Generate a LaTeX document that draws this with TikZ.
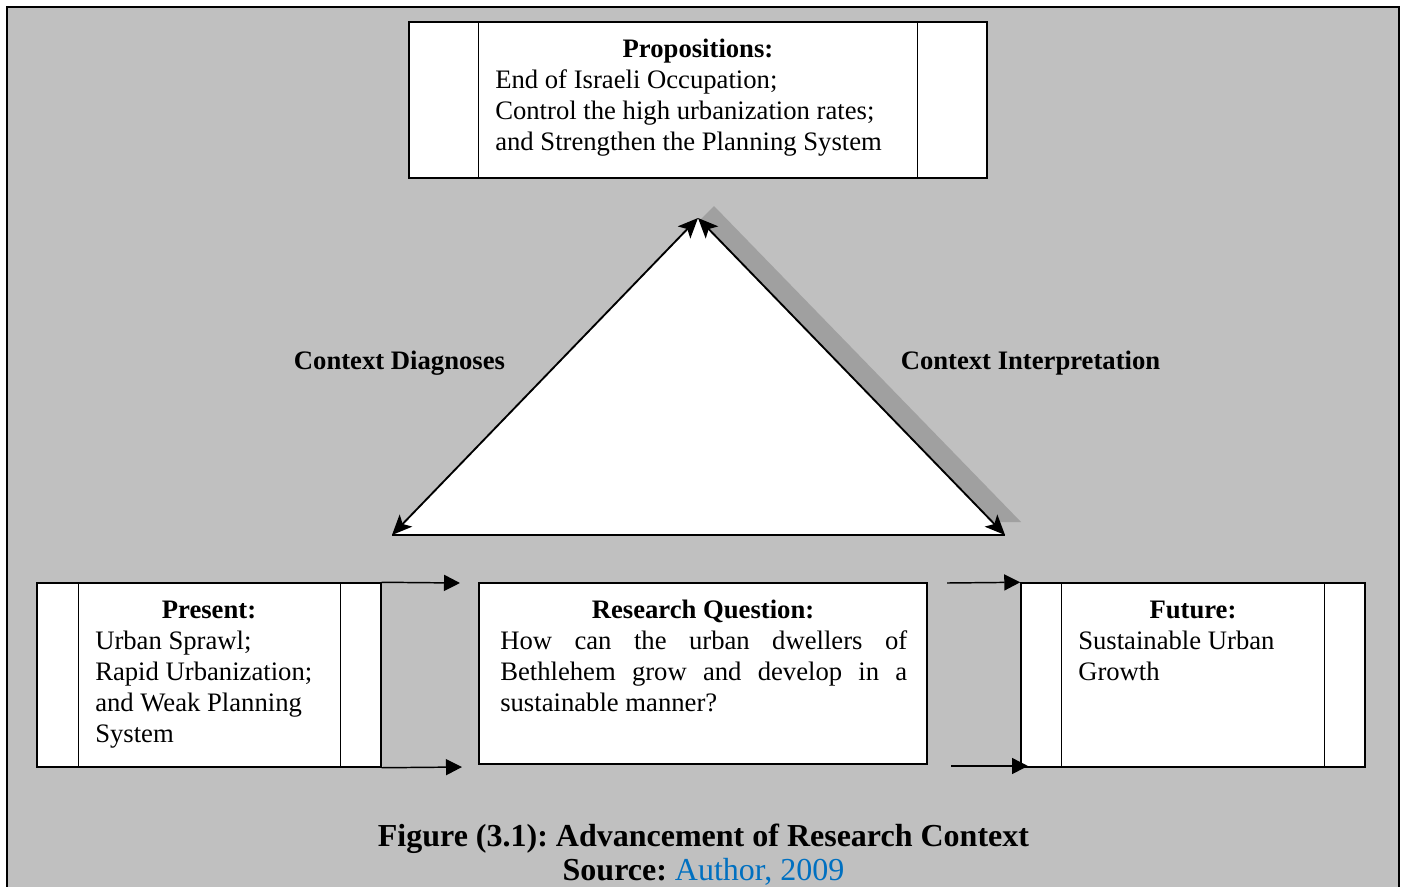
\documentclass[tikz,border=0pt]{standalone}
\usepackage{fontspec}
\setmainfont{Liberation Serif}
\usetikzlibrary{arrows.meta}
\definecolor{bg}{RGB}{192,192,192}
\definecolor{shadowc}{RGB}{160,160,160}
\definecolor{srcblue}{RGB}{0,112,192}
\frenchspacing
\begin{document}
\begin{tikzpicture}[x=0.75pt,y=-0.75pt,
  box/.style={draw, line width=1.1pt, fill=white, inner sep=0pt},
  bodytxt/.style={anchor=base west, inner sep=0pt, font=\fontsize{20}{23.25}\selectfont},
  headtxt/.style={anchor=base, inner sep=0pt, font=\fontsize{20}{23.25}\selectfont\bfseries},
  captxt/.style={anchor=base, inner sep=0pt, font=\fontsize{24}{28}\selectfont\bfseries},
  conn/.style={line width=1.1pt, -{Triangle[length=12pt,width=12pt]}},
  tri/.style={line width=1.4pt, {Stealth[length=15pt,width=13pt,inset=3.5pt]}-{Stealth[length=15pt,width=13pt,inset=3.5pt]}},
  inner/.style={line width=1.1pt}
]
\useasboundingbox (0,0) rectangle (1403,886);
\clip (0,0) rectangle (1403,886);
\fill[white] (0,0) rectangle (1403,886);
\draw[fill=bg, line width=2pt] (7,7) rectangle (1399,950);

% triangle
\coordinate (A) at (698,218);
\coordinate (L) at (392,535);
\coordinate (R) at (1005,535);
\fill[shadowc] (700,220) -- (714,206) -- (1021,522) -- (992,522) -- cycle;
\fill[white] (A) -- (L) -- (R) -- cycle;
\draw[line width=1.3pt] (L) -- (R);
\draw[tri] (L) -- (A);
\draw[tri] (A) -- (R);

% top box
\node[box, minimum width=433.5pt, minimum height=117pt] (prop) at (698,100) {};
\draw[inner] ([xshift=52.5pt]prop.north west) -- ([xshift=52.5pt]prop.south west);
\draw[inner] ([xshift=-52.5pt]prop.north east) -- ([xshift=-52.5pt]prop.south east);
\node[headtxt] (propH) at (698,57) {Propositions:};
\node[bodytxt] (prop1) at (495,88) {End of Israeli Occupation;};
\node[bodytxt] (prop2) at (495,119) {Control the high urbanization rates;};
\node[bodytxt] (prop3) at (495,150) {and Strengthen the Planning System};

% labels
\node[headtxt] (cd) at (399.5,369) {Context Diagnoses};
\node[headtxt] (ci) at (1030.5,369) {Context Interpretation};

% present box
\node[box, minimum width=258pt, minimum height=138pt] (pres) at (209,675) {};
\draw[inner] ([xshift=31.5pt]pres.north west) -- ([xshift=31.5pt]pres.south west);
\draw[inner] ([xshift=-30.75pt]pres.north east) -- ([xshift=-30.75pt]pres.south east);
\node[headtxt] (presH) at (209,618) {Present:};
\node[bodytxt] (pres1) at (95,649) {Urban Sprawl;};
\node[bodytxt] (pres2) at (95,680) {Rapid Urbanization;};
\node[bodytxt] (pres3) at (95,711) {and Weak Planning};
\node[bodytxt] (pres4) at (95,742) {System};

% research question box
\node[box, minimum width=336pt, minimum height=135.75pt] (rq) at (703,673.5) {};
\node[headtxt] (rqH) at (703,618) {Research Question:};
\node[bodytxt] (rq1) at (500,649) {\makebox[305.25pt][s]{How can the urban dwellers of}};
\node[bodytxt] (rq2) at (500,680) {\makebox[305.25pt][s]{Bethlehem grow and develop in a}};
\node[bodytxt] (rq3) at (500,711) {sustainable manner?};

% future box
\node[box, minimum width=258pt, minimum height=138pt] (fut) at (1193,675) {};
\draw[inner] ([xshift=30.75pt]fut.north west) -- ([xshift=30.75pt]fut.south west);
\draw[inner] ([xshift=-30.75pt]fut.north east) -- ([xshift=-30.75pt]fut.south east);
\node[headtxt] (futH) at (1193,618) {Future:};
\node[bodytxt] (fut1) at (1078,649) {Sustainable Urban};
\node[bodytxt] (fut2) at (1078,680) {Growth};

% connectors
\coordinate (t1) at (460,583);
\coordinate (t2) at (462,767);
\coordinate (s3) at (947,583);
\coordinate (s4) at (951,766);
\coordinate (t4) at (1028,766);
\draw[conn] (pres.north east) -- (t1);
\draw[conn] (pres.south east) -- (t2);
\draw[conn] (s3) -- (fut.north west);
\draw[conn] (s4) -- (t4);

% caption
\node[captxt] (cap1) at (703.5,846) {Figure (3.1): Advancement of Research Context};
\node[captxt] (cap2) at (703.5,880) {Source: \mdseries\color{srcblue}Author, 2009};
\end{tikzpicture}
\end{document}
